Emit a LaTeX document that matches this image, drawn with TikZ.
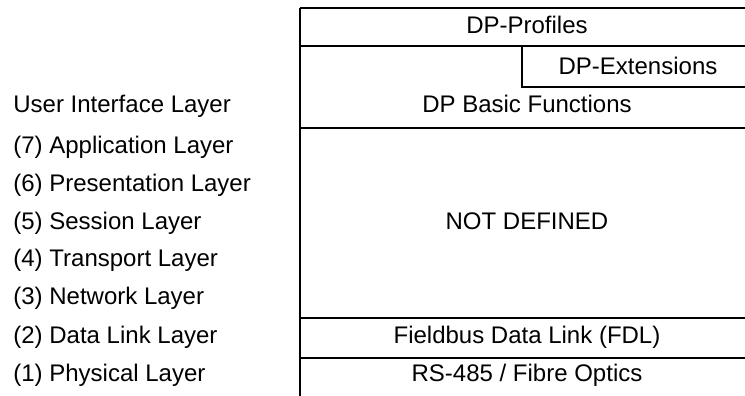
\documentclass[tikz,border=0pt]{standalone}
\usepackage{fontspec}
\setmainfont{Liberation Sans}
\usepackage{tikz}

\begin{document}
\begin{tikzpicture}[x=0.5pt,y=-0.5pt]
      \tikzset { frame/.style = { draw=black, line width=1pt } }
      \tikzset { txt/.style = { anchor=base, inner sep=0pt, font=\fontsize{12}{14}\selectfont } }
      \tikzset { osi/.style = { txt, anchor=base west } }

      \path[use as bounding box] (0,0) rectangle (745,396);
      \clip (0,0) rectangle (745,396);

      % profibus stack
      \foreach \y in {8,46,128,318,358}
        \draw[frame] (300,\y) -- (754,\y);
      \draw[frame] (300,8) -- (300,396);
      \draw[frame] (522,46) |- (754,87);

      \node[txt] (prof) at (527,33.3) {DP-Profiles};
      \node[txt] (ext) at (638,74) {DP-Extensions};
      \node[txt] (basic) at (527,112.3) {DP Basic Functions};
      \node[txt] (notdef) at (527,229.3) {NOT DEFINED};
      \node[txt] (fdl) at (527,343.3) {Fieldbus Data Link (FDL)};
      \node[txt] (rs) at (527,381.7) {RS-485 / Fibre Optics};

      % osi layers
      \node[osi] (ui) at (13,112.3) {User Interface Layer};
      \node[osi] (l7) at (13,153.3) {(7) Application Layer};
      \node[osi] (l6) at (13,191.7) {(6) Presentation Layer};
      \node[osi] (l5) at (13,229.3) {(5) Session Layer};
      \node[osi] (l4) at (13,266) {(4) Transport Layer};
      \node[osi] (l3) at (13,304) {(3) Network Layer};
      \node[osi] (l2) at (13,343.3) {(2) Data Link Layer};
      \node[osi] (l1) at (13,381.7) {(1) Physical Layer};

    \end{tikzpicture}
\end{document}
